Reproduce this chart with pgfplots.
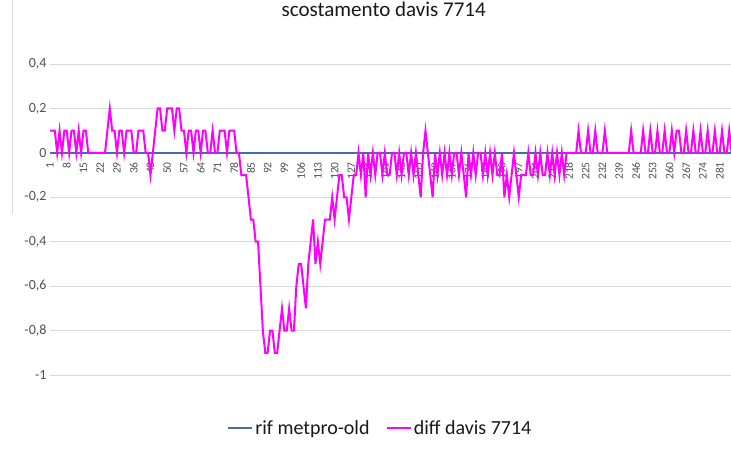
\documentclass[border=0pt]{standalone}
\usepackage{fontspec}
\setmainfont{Carlito}
\usepackage{pgfplots}
\usepackage{pgfplotstable}
\pgfplotsset{compat=1.18}

\definecolor{rifblue}{RGB}{68,108,176}
\definecolor{diffmag}{RGB}{255,0,255}
\definecolor{gridgray}{RGB}{217,217,217}
\definecolor{labgray}{RGB}{80,80,80}

% diff davis 7714, one value per category 1..288
\pgfplotstableread[row sep=\\]{
y\\
0.1\\0.1\\0.1\\0\\0.1\\0\\0.1\\0.1\\0\\0.1\\
0.1\\0\\0.1\\0\\0.1\\0.1\\0\\0\\0\\0\\
0\\0\\0\\0\\0.1\\0.2\\0.1\\0.1\\0\\0.1\\
0.1\\0\\0.1\\0.1\\0.1\\0\\0\\0.1\\0.1\\0.1\\
0\\0\\-0.1\\0\\0.1\\0.2\\0.2\\0.1\\0.1\\0.2\\
0.2\\0.2\\0.1\\0.2\\0.2\\0.1\\0.1\\0\\0.1\\0.1\\
0\\0.1\\0.1\\0\\0.1\\0.1\\0\\0\\0.1\\0\\
0\\0.1\\0.1\\0.1\\0\\0.1\\0.1\\0.1\\0\\0\\
-0.1\\-0.1\\-0.1\\-0.2\\-0.3\\-0.3\\-0.4\\-0.4\\-0.6\\-0.8\\
-0.9\\-0.9\\-0.8\\-0.8\\-0.9\\-0.9\\-0.8\\-0.7\\-0.8\\-0.8\\
-0.7\\-0.8\\-0.8\\-0.6\\-0.5\\-0.5\\-0.6\\-0.7\\-0.5\\-0.4\\
-0.3\\-0.5\\-0.4\\-0.5\\-0.4\\-0.3\\-0.3\\-0.3\\-0.2\\-0.3\\
-0.2\\-0.1\\-0.1\\-0.2\\-0.2\\-0.3\\-0.2\\-0.1\\-0.1\\0\\
-0.1\\0\\-0.2\\0\\-0.1\\0\\-0.1\\0\\0\\-0.1\\
0\\-0.1\\-0.1\\0\\0\\-0.1\\0\\-0.1\\0\\0\\
-0.1\\0\\-0.1\\0\\-0.1\\-0.2\\0\\0.1\\0\\-0.1\\
-0.2\\0\\-0.1\\0\\-0.1\\0\\-0.1\\0\\-0.1\\0\\
0\\-0.1\\0\\-0.1\\-0.2\\0\\-0.1\\0\\-0.1\\0\\
0\\-0.1\\0\\-0.1\\0\\-0.1\\0\\-0.1\\-0.1\\0\\
-0.2\\-0.1\\-0.2\\-0.1\\0\\-0.1\\-0.2\\-0.1\\-0.1\\-0.1\\
0\\-0.1\\-0.1\\0\\-0.1\\0\\-0.1\\-0.1\\0\\-0.1\\
0\\-0.1\\0\\-0.1\\0\\-0.1\\0\\0\\0\\0\\
0\\0.1\\0\\0\\0\\0.1\\0\\0\\0.1\\0\\
0\\0\\0.1\\0\\0\\0\\0\\0\\0\\0\\
0\\0\\0\\0.1\\0\\0\\0\\0\\0.1\\0\\
0\\0.1\\0\\0\\0.1\\0\\0\\0.1\\0\\0\\
0.1\\0\\0.1\\0.1\\0\\0\\0.1\\0\\0\\0.1\\
0\\0\\0.1\\0\\0\\0.1\\0\\0\\0.1\\0\\
0\\0.1\\0\\0\\0.1\\0\\0\\0\\
}\diffdata

\begin{document}
\begin{tikzpicture}
\path[use as bounding box] (0,0) rectangle (731pt,464pt);
\draw[gridgray, line width=0.8pt] (12pt,250pt) -- (12pt,464pt);
\begin{axis}[
  at={(50pt,89pt)}, anchor=south west,
  scale only axis,
  width=681pt, height=311pt,
  xmin=1, xmax=285.75,
  ymin=-1, ymax=0.4,
  axis line style={draw=none},
  tick style={draw=none},
  xtick={1,8,...,281},
  ytick={-1,-0.8,-0.6,-0.4,-0.2,0,0.2,0.4},
  ymajorgrids, grid style={gridgray, line width=0.8pt},
  /pgf/number format/.cd, use comma, assume math mode=true,
  /pgfplots/.cd,
  xticklabel style={yshift=214pt, rotate=90, anchor=east, font=\fontsize{11.5}{11.5}\selectfont,
    text=labgray, inner sep=1pt},
  yticklabel style={font=\fontsize{14}{14}\selectfont, text=labgray, xshift=0pt},
  title={scostamento davis 7714},
  title style={at={(0.49,1.157)}, anchor=center, font=\fontsize{21}{21}\selectfont, text=black!90},
  legend style={at={(0.485,-0.17)}, anchor=center, draw=none, fill=none,
    legend columns=2, font=\fontsize{20}{20}\selectfont, text=black!90,
    /tikz/every even column/.append style={column sep=14pt}},
  legend image code/.code={\draw[#1, line width=2.2pt] (0pt,0pt) -- (24pt,0pt);},
]
\addplot[rifblue, line width=2.2pt] coordinates {(1,0) (288,0)};
\addlegendentry{rif metpro-old}
\addplot[diffmag, line width=2pt] table[x expr=\coordindex+1, y=y] {\diffdata};
\addlegendentry{diff davis 7714}
\end{axis}
\end{tikzpicture}
\end{document}
